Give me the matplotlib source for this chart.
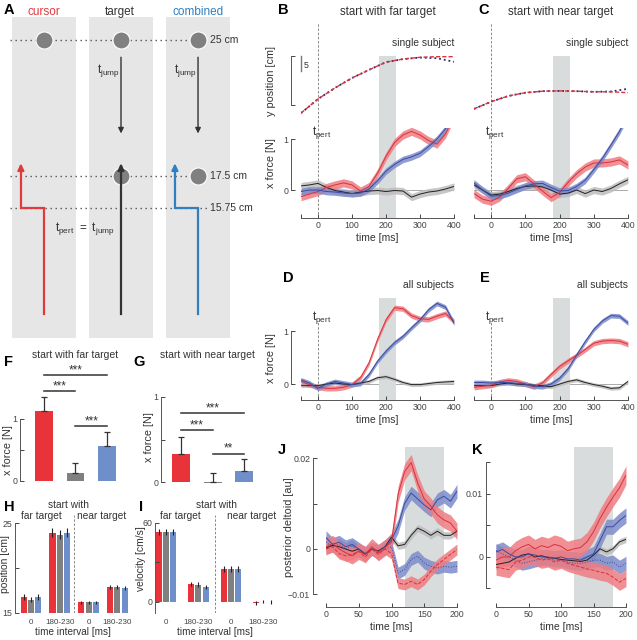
import numpy as np
import matplotlib
matplotlib.use('Agg')
from matplotlib import pyplot as plt
from matplotlib.patches import Rectangle

# ---------------- data ----------------
t_force = [-50, -25, 0, 25, 50, 75, 100, 125, 150, 175, 200, 225, 250, 275, 300, 325, 350, 375, 400]

# B: single subject, far target (x force [N])
b_red = [-0.13, -0.08, -0.03, 0.05, 0.10, 0.14, 0.10, -0.02, 0.07, 0.33, 0.66, 0.93, 1.08, 1.15, 1.08, 0.97, 0.90, 1.10, 1.45]
b_blue = [-0.03, 0.0, 0.0, -0.03, -0.04, -0.06, -0.07, -0.06, 0.02, 0.18, 0.37, 0.50, 0.60, 0.65, 0.72, 0.85, 1.00, 1.20, 1.48]
b_black = [0.08, 0.10, 0.13, 0.05, -0.01, -0.04, -0.07, -0.04, -0.02, -0.01, -0.03, -0.01, -0.02, -0.14, -0.08, -0.04, -0.02, 0.02, 0.07]
# C: single subject, near target
c_red = [-0.07, -0.18, -0.22, -0.14, 0.03, 0.22, 0.26, 0.12, -0.02, -0.15, -0.05, 0.15, 0.32, 0.45, 0.53, 0.53, 0.55, 0.59, 0.49]
c_blue = [0.14, 0.0, -0.12, -0.11, -0.06, 0.01, 0.08, 0.12, 0.13, 0.05, -0.02, -0.01, 0.07, 0.19, 0.40, 0.62, 0.88, 1.15, 1.48]
c_black = [0.10, 0.0, -0.10, -0.08, -0.03, 0.03, 0.07, 0.08, 0.06, 0.0, -0.08, -0.06, 0.0, -0.07, 0.0, -0.03, 0.03, 0.12, 0.20]
# D: all subjects, far target
d_red = [0.05, -0.01, -0.06, -0.08, -0.08, -0.06, -0.01, 0.12, 0.40, 0.84, 1.21, 1.44, 1.42, 1.29, 1.23, 1.22, 1.28, 1.33, 1.18]
d_blue = [0.08, 0.02, -0.08, 0.0, 0.05, 0.02, -0.01, 0.01, 0.18, 0.43, 0.62, 0.78, 0.90, 1.06, 1.21, 1.40, 1.52, 1.45, 1.15]
d_black = [-0.03, -0.03, -0.03, 0.0, 0.02, 0.0, -0.01, 0.02, 0.05, 0.12, 0.14, 0.09, 0.03, -0.01, -0.01, 0.01, 0.03, 0.04, 0.05]
# E: all subjects, near target
e_red = [-0.06, -0.04, -0.02, 0.04, 0.07, 0.05, 0.0, -0.05, 0.02, 0.18, 0.33, 0.44, 0.54, 0.65, 0.77, 0.81, 0.82, 0.81, 0.75]
e_blue = [0.03, 0.03, 0.02, 0.03, 0.03, 0.01, 0.0, -0.04, -0.05, 0.0, 0.11, 0.29, 0.55, 0.80, 1.03, 1.19, 1.29, 1.28, 1.15]
e_black = [-0.03, -0.03, -0.03, 0.0, 0.02, 0.0, -0.01, -0.02, -0.03, -0.05, 0.0, 0.05, 0.08, 0.03, -0.01, -0.04, -0.08, -0.07, 0.05]

# y position [cm] (B far, C near)
t_pos = [-50, 0, 50, 100, 150, 200, 250, 300, 350, 400]
b_pos_red = [6.3, 11.0, 14.7, 18.0, 20.7, 23.3, 24.3, 24.9, 25.1, 25.1]
b_pos_blue = [6.3, 11.0, 14.7, 18.0, 20.7, 23.3, 24.3, 24.8, 24.6, 23.4]
c_pos_red = [7.7, 10.1, 12.0, 13.1, 13.6, 13.7, 13.6, 13.4, 13.4, 13.1]
c_pos_blue = [7.7, 10.1, 12.0, 13.1, 13.6, 13.7, 13.6, 13.4, 13.5, 14.4]

# J, K: posterior deltoid [au]
t_emg = [0, 10, 20, 30, 40, 50, 60, 70, 80, 90, 100, 110, 120, 130, 140, 150, 160, 170, 180, 190, 200]
j_red_up = [0.0005, 0.0012, 0.0, -0.0008, -0.0015, -0.0005, -0.0012, 0.0005, -0.0008, 0.0003, 0.0015, 0.012, 0.017, 0.019, 0.0145, 0.011, 0.0094, 0.0075, 0.0064, 0.0057, 0.0039]
j_red_dn = [0.0, 0.0005, -0.001, -0.0015, -0.0012, -0.0005, -0.0018, 0.0, -0.0012, 0.0, -0.001, -0.0075, -0.0078, -0.0071, -0.0078, -0.0067, -0.0049, -0.0034, -0.0023, -0.0012, -0.0001]
j_blue_up = [0.0025, 0.001, 0.0015, 0.0005, 0.001, 0.0, -0.001, 0.0, -0.0005, 0.0005, 0.002, 0.005, 0.010, 0.0123, 0.011, 0.0097, 0.0086, 0.0108, 0.0116, 0.0105, 0.0127]
j_blue_dn = [0.0015, 0.0005, 0.001, 0.0, 0.0008, -0.0005, -0.0008, 0.0, -0.001, 0.0, 0.0005, -0.0053, -0.0045, -0.0023, -0.0016, -0.0031, -0.0038, -0.0042, -0.0038, -0.004, -0.0038]
j_black = [0.0002, 0.0008, 0.0005, 0.0, -0.0005, 0.0, -0.0012, 0.0, -0.0004, 0.0005, 0.0026, 0.0007, 0.001, 0.003, 0.0046, 0.0039, 0.003, 0.0039, 0.003, 0.003, 0.0039]
k_red_up = [-0.0005, 0.0, 0.0, 0.001, 0.0016, 0.002, 0.0013, 0.0018, 0.0015, 0.002, 0.0017, 0.001, 0.0013, 0.0015, 0.0024, 0.004, 0.0061, 0.0079, 0.0095, 0.011, 0.013]
k_red_dn = [-0.0016, -0.0018, -0.002, -0.0008, -0.0005, 0.0, 0.0, -0.0005, -0.0003, -0.0008, -0.0005, -0.001, -0.0013, -0.0016, -0.0019, -0.0021, -0.0024, -0.0026, -0.0032, -0.004, -0.0034]
k_blue_up = [0.0008, 0.0012, 0.0005, 0.0, 0.0, 0.0005, 0.0003, 0.0, 0.0, -0.0002, 0.0, -0.0003, -0.0003, -0.0005, 0.0, 0.0005, 0.0026, 0.0048, 0.0048, 0.0058, 0.0066]
k_blue_dn = [0.001, 0.0005, 0.0, -0.0005, -0.001, -0.0008, -0.0005, -0.0003, -0.0003, -0.0005, -0.0005, -0.0008, -0.001, -0.001, -0.0008, -0.0005, -0.0005, -0.001, -0.0008, -0.0016, -0.001]
k_black = [-0.0012, -0.001, -0.0008, -0.0002, 0.0003, 0.0005, 0.0, 0.0002, -0.0001, -0.0002, -0.0004, -0.0005, -0.0006, -0.0007, -0.0005, 0.0003, 0.0013, 0.0008, 0.0013, 0.0024, 0.0028]

# F, G: x force bars (cursor, target, combined)
f_mean = [1.13, 0.13, 0.56]
f_err = [0.22, 0.16, 0.23]
g_mean = [0.33, -0.01, 0.13]
g_err = [0.20, 0.11, 0.14]
# H position [cm], I velocity [cm/s]: groups far 0, far 180-230, near 0, near 180-230
h_red = [16.8, 23.9, 16.2, 17.9]
h_gray = [16.5, 23.7, 16.2, 17.9]
h_blue = [16.8, 23.9, 16.2, 17.8]
h_err = [0.3, 0.5, 0.15, 0.25]
i_red = [53, 13.7, 25, -0.8]
i_gray = [53, 13.2, 25, 0.2]
i_blue = [53, 11.4, 25, 0.0]
i_err = [2.5, 1.8, 2.0, 1.2]
interval_labels = ['0', '180-230', '0', '180-230']

# ---------------- style ----------------
W, H = 637, 640
plt.rcParams['font.family'] = ['Liberation Sans', 'DejaVu Sans']
plt.rcParams['mathtext.fontset'] = 'custom'
plt.rcParams['mathtext.rm'] = 'Liberation Sans'
plt.rcParams['font.size'] = 7
plt.rcParams['axes.linewidth'] = 0.7
plt.rcParams['axes.edgecolor'] = '#555555'
plt.rcParams['text.color'] = '#333333'
plt.rcParams['axes.labelcolor'] = '#333333'

RED, RED_BAND = '#d8323c', '#ef7c82'
BLUE, BLUE_BAND = '#3b4b9e', '#7d8cca'
BLACK, GRAY_BAND = '#222222', '#bdbdbd'
SHADE = '#d9dcdc'
BAR_COLORS = ['#e8333b', '#808080', '#6f8fcb']
LABEL_FS = 7.8
TICK_FS = 6.3

fig = plt.figure(figsize=(W / 100, H / 100), dpi=100)


def px_axes(x0, y0, x1, y1):
    ax = fig.add_axes([x0 / W, 1 - y1 / H, (x1 - x0) / W, (y1 - y0) / H])
    ax.set_facecolor('none')
    return ax


def fig_text(x, y, s, **kw):
    fig.text(x / W, 1 - y / H, s, **kw)


def letter(x, y, s):
    fig_text(x, y, s, fontsize=10.5, fontweight='bold', color='black', va='center', ha='left')


def clean(ax):
    for side in ['top', 'right']:
        ax.spines[side].set_visible(False)
    ax.tick_params(direction='in', length=3, width=0.7, colors='#444444', labelsize=TICK_FS, pad=2)


TPERT = r'$\mathrm{t}_{\mathrm{pert}}$'
TJUMP = r'$\mathrm{t}_{\mathrm{jump}}$'

# ---------------- A: schematic ----------------
axA = px_axes(0, 15, 237, 340)
axA.set_xlim(-0.571, 2.506)
axA.set_ylim(8.49, 26.37)
axA.axis('off')
for c in range(3):
    axA.add_patch(Rectangle((c - 0.415, 8.6), 0.83, 17.66, color='#e6e6e6', lw=0, zorder=0))
for yy, lab in [(25, '25 cm'), (17.5, '17.5 cm'), (15.75, '15.75 cm')]:
    axA.plot([-0.44, 2.12], [yy, yy], color='#555555', lw=1.0, ls=(0, (1, 2.6)), zorder=1)
    axA.text(2.16, yy, lab, fontsize=7.5, va='center', ha='left', color='#333333')
axA.scatter([0, 1, 2, 1, 2], [25, 25, 25, 17.5, 17.5], s=150, color='#808080', edgecolor='white', lw=0.8, zorder=2)
for xs, col in [([0, 0, -0.3, -0.3], '#e03a3e'), ([1, 1], '#333333'), ([2, 2, 1.7, 1.7], '#2f7fc1')]:
    ys = [9.9, 15.75, 15.75, 18.0] if len(xs) == 4 else [9.9, 18.0]
    axA.plot(xs, ys, color=col, lw=1.6, zorder=3, solid_joinstyle='miter')
    axA.annotate('', xy=(xs[-1], 18.35), xytext=(xs[-1], 17.8),
                 arrowprops=dict(arrowstyle='-|>', color=col, lw=1.6, mutation_scale=9), zorder=3)
for c in [1, 2]:
    axA.annotate('', xy=(c, 19.7), xytext=(c, 24.2),
                 arrowprops=dict(arrowstyle='-|>', color='#333333', lw=1.0, mutation_scale=8))
    axA.text(c - 0.17, 23.3, TJUMP, fontsize=8.5, ha='center', va='center')
axA.text(0.53, 14.6, r'$\mathrm{t}_{\mathrm{pert}}\ =\ \mathrm{t}_{\mathrm{jump}}$', fontsize=8.5,
         ha='center', va='center')
fig_text(44, 12, 'cursor', fontsize=8.5, color='#e03a3e', ha='center', va='center')
fig_text(120, 12, 'target', fontsize=8.5, color='#333333', ha='center', va='center')
fig_text(198, 12, 'combined', fontsize=8.5, color='#2f7fc1', ha='center', va='center')
letter(4, 10, 'A')


# ---------------- B-E: force traces ----------------
def trace(ax, t, m, s, line, band, ls='-'):
    m = np.asarray(m)
    ax.fill_between(t, m - s, m + s, color=band, lw=0, alpha=0.85)
    ax.plot(t, m, color=line, lw=0.7, ls=ls)


def force_axes(x0, x1, y0, y1, ylim, with_y):
    ax = px_axes(x0, y0, x1, y1)
    ax.set_xlim(-50, 400)
    ax.set_ylim(*ylim)
    clean(ax)
    ax.spines['bottom'].set_bounds(-50, 400)
    ax.set_xticks([-50, 0, 100, 200, 300, 400])
    ax.set_xticklabels(['', '0', '100', '200', '300', '400'])
    ax.set_xlabel('time [ms]', fontsize=7.5, labelpad=2)
    ax.axhline(0, color='#888888', lw=0.5, zorder=0)
    if with_y:
        ax.spines['left'].set_position(('outward', 7.2))
        ax.spines['left'].set_bounds(0, 1)
        ax.set_yticks([0, 1])
        ax.set_yticklabels(['0', '1'])
        ax.set_ylabel('x force [N]', fontsize=LABEL_FS)
    else:
        ax.spines['left'].set_visible(False)
        ax.set_yticks([])
    return ax


panels_top = [
    (301, 454, 'B', 278, 'start with far target', b_red, b_blue, b_black, b_pos_red, b_pos_blue, True),
    (474, 628, 'C', 478, 'start with near target', c_red, c_blue, c_black, c_pos_red, c_pos_blue, False),
]
for x0, x1, let, lx, title, red, blue, black, pr, pb, with_y in panels_top:
    bg = px_axes(x0, 20, x1, 218)
    bg.set_xlim(-50, 400)
    bg.set_ylim(0, 1)
    bg.axis('off')
    bg.axvspan(180, 230, ymin=0, ymax=162 / 198, color=SHADE, lw=0)
    bg.axvline(0, ymin=0, ymax=195 / 198, color='#777777', lw=0.6, ls=(0, (3, 2)))

    pos = px_axes(x0, 50, x1, 118)
    pos.set_xlim(-50, 400)
    pos.set_ylim(4.67, 27.33)
    clean(pos)
    pos.spines['bottom'].set_visible(False)
    pos.set_xticks([])
    pos.plot(t_pos, pb, color='#1f2a70', lw=1.3, ls=':')
    pos.plot(t_pos, pr, color='#e0303a', lw=1.0, ls=(0, (3, 1.5)))
    if with_y:
        pos.spines['left'].set_position(('outward', 7.2))
        pos.spines['left'].set_bounds(9, 25.3)
        pos.set_yticks([9, 25.3])
        pos.set_yticklabels(['', ''])
        pos.set_ylabel('y position [cm]', fontsize=LABEL_FS)
        pos.yaxis.set_label_coords(-0.163, 0.54)
        pos.plot([-50, -50], [20.3, 25.3], color='#777777', lw=1.0, clip_on=False)
        pos.text(-34, 22.2, '5', fontsize=TICK_FS, ha='center', va='center')
    else:
        pos.spines['left'].set_visible(False)
        pos.set_yticks([])

    ax = force_axes(x0, x1, 128, 218, (-0.549, 1.216), with_y)
    if with_y:
        ax.yaxis.set_label_coords(-0.163, 0.61)
    trace(ax, t_force, black, 0.07, BLACK, GRAY_BAND)
    trace(ax, t_force, red, 0.08, RED, RED_BAND)
    trace(ax, t_force, blue, 0.065, BLUE, BLUE_BAND)
    ax.text(-18, 1.12, TPERT, fontsize=8.5, ha='left', va='center')

    fig_text((x0 + x1) / 2 + 10, 12, title, fontsize=8.3, ha='center', va='center')
    fig_text(x1, 43, 'single subject', fontsize=7.4, ha='right', va='center')
    letter(lx, 10, let)

panels_mid = [
    (301, 454, 'D', 283, d_red, d_blue, d_black, True),
    (474, 628, 'E', 480, e_red, e_blue, e_black, False),
]
for x0, x1, let, lx, red, blue, black, with_y in panels_mid:
    ax = force_axes(x0, x1, 296, 400, (-0.30, 1.66), with_y)
    if with_y:
        ax.yaxis.set_label_coords(-0.163, 0.40)
    ax.axvspan(180, 230, ymin=0, ymax=0.98, color=SHADE, lw=0, zorder=0)
    ax.axvline(0, ymin=0, ymax=0.75, color='#777777', lw=0.6, ls=(0, (3, 2)), zorder=0)
    trace(ax, t_force, black, 0.035, BLACK, GRAY_BAND)
    trace(ax, t_force, red, 0.05, RED, RED_BAND)
    trace(ax, t_force, blue, 0.045, BLUE, BLUE_BAND)
    ax.text(-18, 1.25, TPERT, fontsize=8.5, ha='left', va='center')
    fig_text(x1, 285, 'all subjects', fontsize=7.4, ha='right', va='center')
    letter(lx, 278, let)


# ---------------- F, G: force bars ----------------
def sig(ax, xa, xb, y, stars, dy):
    ax.plot([xa, xb], [y, y], color='#333333', lw=1.1, clip_on=False)
    ax.text((xa + xb) / 2, y + dy, stars, fontsize=8.5, ha='center', va='baseline', clip_on=False)


def force_bars(ax, means, errs, lim):
    ax.set_xlim(*lim)
    clean(ax)
    ax.spines['bottom'].set_visible(False)
    ax.set_xticks([])
    ax.spines['left'].set_bounds(0, 1)
    ax.set_yticks([0, 0.5, 1])
    ax.set_yticklabels(['0', '', '1'])
    x = np.arange(3)
    ax.bar(x, means, width=0.57, color=BAR_COLORS)
    base = np.maximum(means, 0)
    ax.errorbar(x, base, yerr=[np.zeros(3), errs], fmt='none', ecolor='#333333',
                elinewidth=0.9, capsize=2.5, capthick=0.9)
    ax.set_ylabel('x force [N]', fontsize=LABEL_FS)


axF = px_axes(20, 360, 125, 484)
axF.set_ylim(-0.05, 1.95)
force_bars(axF, f_mean, f_err, (-0.76, 2.57))
axF.yaxis.set_label_coords(-0.07, 0.27)
sig(axF, 0, 2, 1.71, '***', 0.03)
sig(axF, 0, 1, 1.45, '***', 0.03)
sig(axF, 1, 2, 0.88, '***', 0.03)
fig_text(75, 355, 'start with far target', fontsize=7.5, ha='center', va='center')
letter(4, 362, 'F')

axG = px_axes(161, 360, 258, 485)
axG.set_ylim(-0.035, 1.435)
force_bars(axG, g_mean, g_err, (-0.63, 2.43))
axG.yaxis.set_label_coords(-0.07, 0.38)
sig(axG, 0, 2, 0.81, '***', 0.025)
sig(axG, 0, 1, 0.61, '***', 0.025)
sig(axG, 1, 2, 0.33, '**', 0.025)
fig_text(207, 355, 'start with near target', fontsize=7.5, ha='center', va='center')
letter(133, 362, 'G')


# ---------------- H, I: kinematics bars ----------------
def kin_bars(ax, reds, grays, blues, err, off, width, bottom):
    x = np.arange(4)
    for vals, col, dx in [(reds, BAR_COLORS[0], -off), (grays, BAR_COLORS[1], 0), (blues, BAR_COLORS[2], off)]:
        vals = np.asarray(vals, dtype=float)
        ax.bar(x + dx, vals - bottom, width=width, bottom=bottom, color=col)
        ax.errorbar(x + dx, vals, yerr=err, fmt='none', ecolor='#222222', elinewidth=0.8)
    clean(ax)
    ax.spines['bottom'].set_visible(False)
    ax.set_xticks(x)
    ax.set_xticklabels(interval_labels, fontsize=5.8)
    ax.tick_params(axis='x', length=0, pad=4)
    ax.axvline(1.5, color='#777777', lw=0.6, ls=(0, (3, 2)))
    ax.set_xlabel('time interval [ms]', fontsize=7.2, labelpad=1)


axH = px_axes(15, 515, 130, 613)
axH.set_xlim(-0.556, 3.44)
axH.set_ylim(15, 25.9)
kin_bars(axH, h_red, h_gray, h_blue, h_err, 0.253, 0.21, 15)
axH.spines['left'].set_bounds(15, 25)
axH.set_yticks([15, 20, 25])
axH.set_yticklabels(['15', '', '25'])
axH.set_ylabel('position [cm]', fontsize=7.4)
axH.yaxis.set_label_coords(-0.045, 0.5)
fig_text(68, 505, 'start with', fontsize=7.3, ha='center', va='center')
fig_text(41, 516, 'far target', fontsize=7.3, ha='center', va='center')
fig_text(102, 516, 'near target', fontsize=7.3, ha='center', va='center')
letter(4, 507, 'H')

axI = px_axes(155, 515, 275, 613)
axI.set_xlim(-0.34, 3.36)
axI.set_ylim(-8.4, 66)
kin_bars(axI, i_red, i_gray, i_blue, i_err, 0.225, 0.185, 0)
axI.spines['left'].set_bounds(-8.4, 60)
axI.set_yticks([0, 30, 60])
axI.set_yticklabels(['0', '', '60'])
axI.set_ylabel('velocity [cm/s]', fontsize=7.4)
axI.yaxis.set_label_coords(-0.075, 0.55)
fig_text(217, 505, 'start with', fontsize=7.3, ha='center', va='center')
fig_text(180, 516, 'far target', fontsize=7.3, ha='center', va='center')
fig_text(252, 516, 'near target', fontsize=7.3, ha='center', va='center')
letter(139, 507, 'I')


# ---------------- J, K: EMG ----------------
def emg_axes(x0, x1, ylim, outward, bounds, ticks, labels):
    ax = px_axes(x0, 447, x1, 607)
    ax.set_xlim(0, 200)
    ax.set_ylim(*ylim)
    clean(ax)
    ax.spines['bottom'].set_bounds(0, 200)
    ax.set_xticks([0, 50, 100, 150, 200])
    ax.set_xlabel('time [ms]', fontsize=7.5, labelpad=2)
    ax.spines['left'].set_position(('outward', outward))
    ax.spines['left'].set_bounds(*bounds)
    ax.set_yticks(ticks)
    ax.set_yticklabels(labels)
    ax.axvspan(120, 180, color=SHADE, lw=0, zorder=0)
    return ax


axJ = emg_axes(326, 457, (-0.01275, 0.02242), 9.4, (-0.01, 0.02),
               [-0.01, 0, 0.01, 0.02], ['\u22120.01', '0', '', '0.02'])
axJ.set_ylabel('posterior deltoid [au]', fontsize=LABEL_FS)
axJ.yaxis.set_label_coords(-0.245, 0.5)
trace(axJ, t_emg, j_black, 0.0008, BLACK, GRAY_BAND)
trace(axJ, t_emg, j_blue_up, 0.0015, BLUE, BLUE_BAND)
trace(axJ, t_emg, j_blue_dn, 0.0013, BLUE, BLUE_BAND, ls=':')
trace(axJ, t_emg, j_red_up, 0.0018, RED, RED_BAND)
trace(axJ, t_emg, j_red_dn, 0.0012, RED, RED_BAND, ls='--')
letter(278, 450, 'J')

axK = emg_axes(496, 626, (-0.00794, 0.01746), 7.2, (-0.005, 0.015),
               [-0.005, 0, 0.005, 0.01, 0.015], ['', '0', '', '0.01', ''])
trace(axK, t_emg, k_black, 0.0005, BLACK, GRAY_BAND)
trace(axK, t_emg, k_blue_up, 0.0012, BLUE, BLUE_BAND)
trace(axK, t_emg, k_blue_dn, 0.0011, BLUE, BLUE_BAND, ls=':')
trace(axK, t_emg, k_red_up, 0.0015, RED, RED_BAND)
trace(axK, t_emg, k_red_dn, 0.0013, RED, RED_BAND, ls='--')
letter(472, 450, 'K')

fig.savefig('out.png', dpi=100)
plt.close(fig)
